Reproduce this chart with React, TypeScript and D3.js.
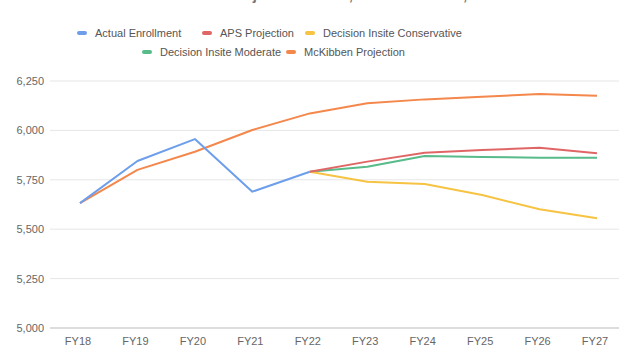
import React from 'react';
import * as d3 from 'd3';

const width = 619;
const height = 349;
const margin = { top: 81, right: 22, bottom: 21, left: 80 };

const years = ['FY18', 'FY19', 'FY20', 'FY21', 'FY22', 'FY23', 'FY24', 'FY25', 'FY26', 'FY27'];
const yTicks = [5000, 5250, 5500, 5750, 6000, 6250];

// null = no value for that year
const actual = [5632, 5845, 5956, 5690, 5791, null, null, null, null, null];
const aps = [null, null, null, null, 5791, 5842, 5887, 5901, 5912, 5884];
const diConservative = [null, null, null, null, 5791, 5740, 5729, 5673, 5601, 5555];
const diModerate = [null, null, null, null, 5791, 5816, 5870, 5865, 5862, 5862];
const mckibben = [5632, 5800, 5892, 6002, 6086, 6137, 6157, 6170, 6184, 6175];

const series = [
  { name: 'Actual Enrollment', color: '#6d9eeb', values: actual },
  { name: 'APS Projection', color: '#e06666', values: aps },
  { name: 'Decision Insite Conservative', color: '#f6c342', values: diConservative },
  { name: 'Decision Insite Moderate', color: '#57bb8a', values: diModerate },
  { name: 'McKibben Projection', color: '#f4874b', values: mckibben },
];

// draw order: mckibben under, actual on top
const drawOrder = [4, 3, 2, 1, 0];

const legendRows = [
  { y: 33, items: [{ i: 0, x: 77 }, { i: 1, x: 202 }, { i: 2, x: 305 }] },
  { y: 52, items: [{ i: 3, x: 142 }, { i: 4, x: 286 }] },
];

export default function App() {
  const x = d3.scalePoint().domain(years).range([margin.left, width - margin.right]);
  const y = d3.scaleLinear().domain([5000, 6250]).range([height - margin.bottom, margin.top]);
  const fmt = d3.format(',');

  const line = d3
    .line<number | null>()
    .defined((d) => d != null)
    .x((_, i) => x(years[i]) as number)
    .y((d) => y(d as number));

  const font = 'Arial, "Liberation Sans", sans-serif';

  return (
    <svg width={width} height={height} style={{ position: 'absolute', left: 0, top: 0, background: '#fff' }} fontFamily={font}>
      <rect width={width} height={height} fill="#fff" />
      {/* title is cropped off in the source, only its lower edge shows */}
      <text x={322} y={-0.5} textAnchor="middle" fontSize={15} fontWeight="bold" fill="#777">
        Actual Enrollment vs. Projections: APS, Decision Insite, and McKibben
      </text>

      {legendRows.map((row, ri) =>
        row.items.map(({ i, x: lx }) => (
          <g key={`${ri}-${i}`}>
            <rect x={lx} y={row.y - 2} width={10} height={4} rx={2} fill={series[i].color} />
            <text x={lx + 18} y={row.y + 4} fontSize={11} fill="#555">
              {series[i].name}
            </text>
          </g>
        ))
      )}

      {yTicks.map((t) => (
        <g key={t}>
          <line
            x1={50}
            x2={width}
            y1={y(t)}
            y2={y(t)}
            stroke={t === 5000 ? '#bbb' : '#e6e6e6'}
            strokeWidth={1}
          />
          <text x={44} y={y(t) + 4} textAnchor="end" fontSize={11} fill="#666">
            {fmt(t)}
          </text>
        </g>
      ))}

      {years.map((yr) => (
        <text key={yr} x={(x(yr) as number) - 2} y={345} textAnchor="middle" fontSize={11} fill="#666">
          {yr}
        </text>
      ))}

      {drawOrder.map((i) => (
        <path
          key={series[i].name}
          d={line(series[i].values) || ''}
          fill="none"
          stroke={series[i].color}
          strokeWidth={2}
          strokeLinejoin="round"
        />
      ))}
    </svg>
  );
}
